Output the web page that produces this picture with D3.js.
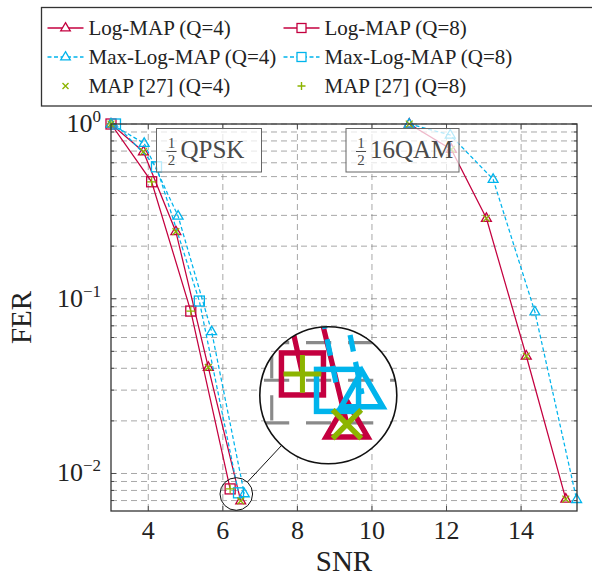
<!DOCTYPE html>
<html><head><meta charset="utf-8">
<script src="https://cdn.jsdelivr.net/npm/d3@7"></script>
<style>body{margin:0;background:#fff} svg{display:block} text{font-family:"Liberation Serif","DejaVu Serif",serif}</style>
</head><body><svg id="c" width="592" height="577"></svg>
<script>
// ---- data ----
const xTicks = [4, 6, 8, 10, 12, 14];
const yTicks = [1, 0.1, 0.01];
const yTickExp = ["0", "\u22121", "\u22122"];

const qpskSnrLogQ4 = [3.0, 3.87, 4.74, 5.61, 6.48];
const qpskFerLogQ4 = [1.0, 0.694, 0.242, 0.0405, 0.00697];
const qpskSnrLogQ8 = [3.0, 4.09, 5.14, 6.196];
const qpskFerLogQ8 = [1.0, 0.467, 0.085, 0.00816];
const qpskSnrMaxQ4 = [3.0, 3.89, 4.80, 5.70, 6.576];
const qpskFerMaxQ4 = [1.0, 0.775, 0.297, 0.0648, 0.00766];
const qpskSnrMaxQ8 = [3.12, 4.22, 5.37, 6.42];
const qpskFerMaxQ8 = [1.0, 0.569, 0.097, 0.00775];

const qamSnrLogQ4 = [11.0, 12.13, 13.07, 14.14, 15.2];
const qamFerLogQ4 = [1.0, 0.716, 0.2886, 0.047, 0.00714];
const qamSnrMaxQ4 = [11.0, 12.1, 13.25, 14.37, 15.49];
const qamFerMaxQ4 = [1.0, 0.865, 0.4825, 0.0842, 0.0071];

const mapSnrQ4 = [3.0, 3.87, 4.74, 5.61, 6.48, 11.0, 12.13, 13.07, 14.14, 15.2];
const mapFerQ4 = [1.0, 0.694, 0.242, 0.0405, 0.00697, 1.0, 0.716, 0.2886, 0.047, 0.00714];
const mapSnrQ8 = [3.0, 4.09, 5.14, 6.196];
const mapFerQ8 = [1.0, 0.467, 0.085, 0.00816];

const legendLabels = ["Log-MAP (Q=4)", "Log-MAP (Q=8)", "Max-Log-MAP (Q=4)", "Max-Log-MAP (Q=8)", "MAP [27] (Q=4)", "MAP [27] (Q=8)"];

// ---- setup ----
const RED = "#c4003f", CYAN = "#00b4ec", GREEN = "#8cb400", GRID = "#8a8a8a";
const svg = d3.select("#c");
const m = {l: 111, r: 577, t: 124, b: 511};
const x = d3.scaleLinear().domain([3, 15.5]).range([m.l, m.r]);
const y = d3.scaleLog().domain([0.0061, 1]).range([m.b, m.t]);
const zip = (a, b) => a.map((v, i) => [v, b[i]]);

const defs = svg.append("defs");
defs.append("clipPath").attr("id", "plotclip").append("rect")
  .attr("x", m.l).attr("y", m.t).attr("width", m.r - m.l).attr("height", m.b - m.t);

function markTri(g, pts, color) {
  const s = 5.5;
  g.selectAll(null).data(pts).enter().append("path")
    .attr("d", d => `M${x(d[0])},${y(d[1]) - s}L${x(d[0]) + s * 0.9},${y(d[1]) + s * 0.55}L${x(d[0]) - s * 0.9},${y(d[1]) + s * 0.55}Z`)
    .attr("fill", "none").attr("stroke", color).attr("stroke-width", 1.3);
}
function markSq(g, pts, color) {
  const s = 5;
  g.selectAll(null).data(pts).enter().append("rect")
    .attr("x", d => x(d[0]) - s).attr("y", d => y(d[1]) - s).attr("width", 2 * s).attr("height", 2 * s)
    .attr("fill", "none").attr("stroke", color).attr("stroke-width", 1.3);
}
function markX(g, pts, color) {
  const s = 3.4;
  g.selectAll(null).data(pts).enter().append("path")
    .attr("d", d => `M${x(d[0]) - s},${y(d[1]) - s}L${x(d[0]) + s},${y(d[1]) + s}M${x(d[0]) - s},${y(d[1]) + s}L${x(d[0]) + s},${y(d[1]) - s}`)
    .attr("stroke", color).attr("stroke-width", 1.3);
}
function markP(g, pts, color) {
  const s = 4.5;
  g.selectAll(null).data(pts).enter().append("path")
    .attr("d", d => `M${x(d[0]) - s},${y(d[1])}L${x(d[0]) + s},${y(d[1])}M${x(d[0])},${y(d[1]) - s}L${x(d[0])},${y(d[1]) + s}`)
    .attr("stroke", color).attr("stroke-width", 1.2);
}
const line = d3.line().x(d => x(d[0])).y(d => y(d[1]));
function drawLine(g, pts, color, dash) {
  g.append("path").attr("d", line(pts)).attr("fill", "none").attr("stroke", color)
    .attr("stroke-width", 1.25).attr("stroke-dasharray", dash || null).attr("clip-path", "url(#plotclip)");
}

function drawContent(g) {
  g.append("rect").attr("x", m.l).attr("y", m.t).attr("width", m.r - m.l).attr("height", m.b - m.t).attr("fill", "#fff");
  // grid
  const gy = [];
  for (let e = -3; e <= 0; e++) for (let k = 1; k <= 9; k++) {
    const v = k * Math.pow(10, e);
    if (v >= y.domain()[0] && v <= 1) gy.push(v);
  }
  const grid = g.append("g").attr("stroke", GRID).attr("stroke-width", 0.75).attr("stroke-dasharray", "6,4");
  grid.selectAll(null).data(gy).enter().append("line")
    .attr("x1", m.l).attr("x2", m.r).attr("y1", d => y(d)).attr("y2", d => y(d));
  grid.selectAll(null).data(xTicks).enter().append("line")
    .attr("y1", m.t).attr("y2", m.b).attr("x1", d => x(d)).attr("x2", d => x(d));
  // ticks
  const tk = g.append("g").attr("stroke", "#444").attr("stroke-width", 0.9);
  tk.selectAll(null).data(xTicks).enter().append("path")
    .attr("d", d => `M${x(d)},${m.b}v-5M${x(d)},${m.t}v5`);
  tk.selectAll(null).data(gy).enter().append("path")
    .attr("d", d => { const L = yTicks.includes(d) ? 5 : 3; return `M${m.l},${y(d)}h${L}M${m.r},${y(d)}h${-L}`; });

  // series
  drawLine(g, zip(qpskSnrLogQ4, qpskFerLogQ4), RED);
  drawLine(g, zip(qamSnrLogQ4, qamFerLogQ4), RED);
  markTri(g, zip(qpskSnrLogQ4, qpskFerLogQ4), RED);
  markTri(g, zip(qamSnrLogQ4, qamFerLogQ4), RED);
  drawLine(g, zip(qpskSnrLogQ8, qpskFerLogQ8), RED);
  markSq(g, zip(qpskSnrLogQ8, qpskFerLogQ8), RED);
  drawLine(g, zip(qpskSnrMaxQ4, qpskFerMaxQ4), CYAN, "4,2.5");
  drawLine(g, zip(qamSnrMaxQ4, qamFerMaxQ4), CYAN, "4,2.5");
  markTri(g, zip(qpskSnrMaxQ4, qpskFerMaxQ4), CYAN);
  markTri(g, zip(qamSnrMaxQ4, qamFerMaxQ4), CYAN);
  drawLine(g, zip(qpskSnrMaxQ8, qpskFerMaxQ8), CYAN, "4,2.5");
  markSq(g, zip(qpskSnrMaxQ8, qpskFerMaxQ8), CYAN);
  markX(g, zip(mapSnrQ4, mapFerQ4), GREEN);
  markP(g, zip(mapSnrQ8, mapFerQ8), GREEN);

  // frame
  g.append("rect").attr("x", m.l).attr("y", m.t).attr("width", m.r - m.l).attr("height", m.b - m.t)
    .attr("fill", "none").attr("stroke", "#333").attr("stroke-width", 1.3);
}

drawContent(svg.append("g"));

// plot labels
function plotLabel(bx, bw, txt, tx) {
  const g = svg.append("g");
  g.append("rect").attr("x", bx).attr("y", 128.5).attr("width", bw).attr("height", 43.5)
    .attr("fill", "#fff").attr("fill-opacity", 0.72).attr("stroke", "#666").attr("stroke-width", 1);
  const fx = bx + 15;
  g.append("text").attr("x", fx).attr("y", 148).attr("text-anchor", "middle").attr("font-size", 15).attr("fill", "#4a4a4a").text("1");
  g.append("line").attr("x1", fx - 5).attr("x2", fx + 5).attr("y1", 151.5).attr("y2", 151.5).attr("stroke", "#4a4a4a").attr("stroke-width", 1);
  g.append("text").attr("x", fx).attr("y", 165).attr("text-anchor", "middle").attr("font-size", 15).attr("fill", "#4a4a4a").text("2");
  g.append("text").attr("x", bx + tx).attr("y", 158).attr("font-size", 25).attr("fill", "#4a4a4a").text(txt);
}
plotLabel(156.5, 105, "QPSK", 24);
plotLabel(346, 113, "16QAM", 24);

// axis tick labels
svg.append("g").selectAll(null).data(xTicks).enter().append("text")
  .attr("x", d => x(d)).attr("y", 539).attr("text-anchor", "middle").attr("font-size", 26).attr("fill", "#222").text(d => d);
const yl = svg.append("g").selectAll(null).data(yTicks).enter().append("text")
  .attr("x", 101).attr("y", d => y(d) + 8).attr("text-anchor", "end").attr("font-size", 26).attr("fill", "#222");
yl.append("tspan").text("10");
yl.append("tspan").attr("dy", -10).attr("font-size", 17).text((d, i) => yTickExp[i]);

svg.append("text").attr("x", (m.l + m.r) / 2).attr("y", 571).attr("text-anchor", "middle").attr("font-size", 29).attr("fill", "#222").text("SNR");
svg.append("text").attr("transform", `translate(31,${(m.t + m.b) / 2}) rotate(-90)`).attr("text-anchor", "middle").attr("font-size", 29).attr("fill", "#222").text("FER");

// magnifier (spy)
const spy = {sx: 236.3, sy: 494, sr: 16.3, bx: 328.3, by: 395.3, br: 68.5};
const k = spy.br / spy.sr;
defs.append("clipPath").attr("id", "magclip").append("circle").attr("cx", spy.bx).attr("cy", spy.by).attr("r", spy.br);
const mag = svg.append("g").attr("clip-path", "url(#magclip)");
mag.append("circle").attr("cx", spy.bx).attr("cy", spy.by).attr("r", spy.br).attr("fill", "#fff");
drawContent(mag.append("g").attr("transform", `translate(${spy.bx},${spy.by}) scale(${k}) translate(${-spy.sx},${-spy.sy})`));
svg.append("circle").attr("cx", spy.bx).attr("cy", spy.by).attr("r", spy.br).attr("fill", "none").attr("stroke", "#111").attr("stroke-width", 1.6);
svg.append("circle").attr("cx", spy.sx).attr("cy", spy.sy).attr("r", spy.sr).attr("fill", "none").attr("stroke", "#111").attr("stroke-width", 1);
{
  const dx = spy.bx - spy.sx, dy = spy.by - spy.sy, L = Math.hypot(dx, dy);
  const ux = dx / L, uy = dy / L;
  svg.append("line").attr("x1", spy.sx + ux * spy.sr).attr("y1", spy.sy + uy * spy.sr)
    .attr("x2", spy.bx - ux * spy.br).attr("y2", spy.by - uy * spy.br).attr("stroke", "#111").attr("stroke-width", 1);
}

// legend
const lg = svg.append("g");
lg.append("rect").attr("x", 41.5).attr("y", 7.5).attr("width", 560).attr("height", 98.5)
  .attr("fill", "#fff").attr("stroke", "#333").attr("stroke-width", 1.3);
const legendStyles = [
  {c: RED, dash: null, mk: "tri", line: true}, {c: RED, dash: null, mk: "sq", line: true},
  {c: CYAN, dash: "4,2.5", mk: "tri", line: true}, {c: CYAN, dash: "4,2.5", mk: "sq", line: true},
  {c: GREEN, mk: "x", line: false}, {c: GREEN, mk: "p", line: false}
];
legendLabels.forEach((lab, i) => {
  const col = i % 2, row = Math.floor(i / 2);
  const x0 = col === 0 ? 47.5 : 283.5, cy = 28 + row * 29;
  const st = legendStyles[i];
  const cx = x0 + 18;
  if (st.line) lg.append("line").attr("x1", x0).attr("x2", x0 + 36).attr("y1", cy).attr("y2", cy)
    .attr("stroke", st.c).attr("stroke-width", 1.3).attr("stroke-dasharray", st.dash);
  if (st.mk === "tri") lg.append("path").attr("d", `M${cx},${cy - 5.3}L${cx + 4.8},${cy + 2.9}L${cx - 4.8},${cy + 2.9}Z`).attr("fill", "#fff").attr("stroke", st.c).attr("stroke-width", 1.3);
  if (st.mk === "sq") lg.append("rect").attr("x", cx - 4.5).attr("y", cy - 4.5).attr("width", 9).attr("height", 9).attr("fill", "#fff").attr("stroke", st.c).attr("stroke-width", 1.3);
  if (st.mk === "x") lg.append("path").attr("d", `M${cx - 3},${cy - 3}L${cx + 3},${cy + 3}M${cx - 3},${cy + 3}L${cx + 3},${cy - 3}`).attr("stroke", st.c).attr("stroke-width", 1.4);
  if (st.mk === "p") lg.append("path").attr("d", `M${cx - 4},${cy}L${cx + 4},${cy}M${cx},${cy - 4}L${cx},${cy + 4}`).attr("stroke", st.c).attr("stroke-width", 1.4);
  lg.append("text").attr("x", x0 + 41).attr("y", cy + 7).attr("font-size", 21).attr("fill", "#222").text(lab);
});
</script></body></html>
